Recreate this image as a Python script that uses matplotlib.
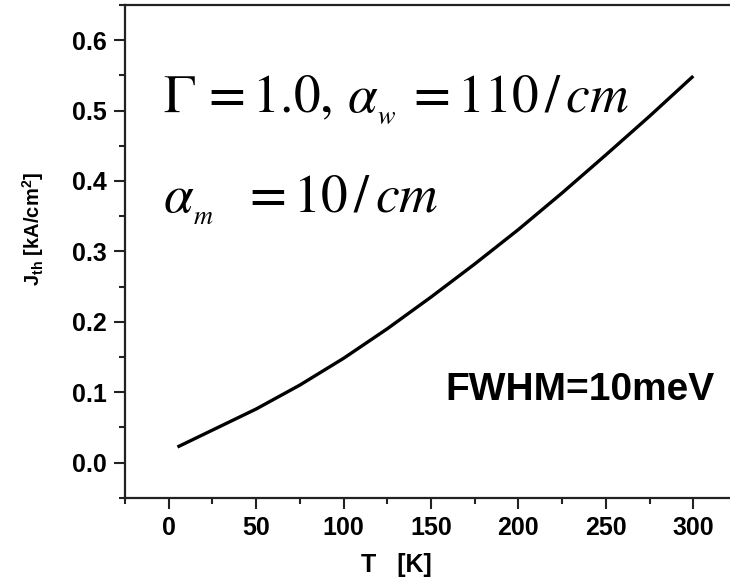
import matplotlib
matplotlib.use("Agg")
import matplotlib.pyplot as plt
from matplotlib.ticker import MultipleLocator

# Data
T = [5, 25, 50, 75, 100, 125, 150, 175, 200, 225, 250, 275, 300]
J = [0.022, 0.046, 0.076, 0.110, 0.148, 0.190, 0.235, 0.282, 0.331, 0.383, 0.437, 0.492, 0.549]

xticks = [0, 50, 100, 150, 200, 250, 300]
yticks = [0.0, 0.1, 0.2, 0.3, 0.4, 0.5, 0.6]

plt.rcParams['font.family'] = ['Liberation Sans', 'DejaVu Sans']
plt.rcParams['mathtext.fontset'] = 'custom'
plt.rcParams['mathtext.rm'] = 'Liberation Sans:bold'
plt.rcParams['mathtext.bf'] = 'Liberation Sans:bold'
plt.rcParams['mathtext.it'] = 'Liberation Sans:bold'

fig = plt.figure(figsize=(7.3, 5.8), dpi=100)
ax = fig.add_axes([0.1712, 0.1419, 1 - 0.1712, 0.9914 - 0.1419])

ax.plot(T, J, color='black', lw=2.4, solid_capstyle='butt')

ax.set_xlim(-25, 321)
ax.set_ylim(-0.05, 0.65)
ax.set_xticks(xticks)
ax.set_yticks(yticks)
ax.set_xticklabels([str(v) for v in xticks])
ax.set_yticklabels([f"{v:.1f}" for v in yticks])
ax.xaxis.set_minor_locator(MultipleLocator(25))
ax.yaxis.set_minor_locator(MultipleLocator(0.05))

for s in ['left', 'bottom', 'top']:
    ax.spines[s].set_linewidth(1.6)
    ax.spines[s].set_color('#222222')
ax.spines['right'].set_visible(False)

ax.tick_params(which='major', direction='out', length=8, width=1.5, colors='#222222',
               labelsize=18, pad=5)
ax.tick_params(which='minor', direction='out', length=4.5, width=1.5, colors='#222222')
ax.tick_params(top=False, right=False)
for lab in ax.get_xticklabels() + ax.get_yticklabels():
    lab.set_fontweight('bold')
    lab.set_color('black')

ax.set_xlabel('T   [K]', fontsize=18, fontweight='bold')
ax.xaxis.set_label_coords((396 - 125) / (730 - 125), -(572 - 497.7) / (497.7 - 5))
ax.xaxis.label.set_va('baseline')
ax.set_ylabel(r'J$_{\mathrm{th}}$ [kA/cm$^{\mathrm{2}}$]', fontsize=14.5, fontweight='bold')
ax.yaxis.set_label_coords(-(125 - 46) / (730 - 125), (497.7 - 229) / (497.7 - 5))

ax.text(163 / 730, 1 - 112 / 580, r'$\Gamma\, = 1.0,\,\alpha_{_{w}}\, = 110\,/\,cm$',
        transform=fig.transFigure, fontsize=38.5, ha='left', va='baseline',
        math_fontfamily='stix')
ax.text(163 / 730, 1 - 212 / 580, r'$\alpha_{_{m}}\ \ = 10\,/\,cm$',
        transform=fig.transFigure, fontsize=38.5, ha='left', va='baseline',
        math_fontfamily='stix')

ax.text(715 / 730, 1 - 400 / 580, 'FWHM=10meV', transform=fig.transFigure,
        fontsize=28, fontweight='bold', ha='right', va='baseline')

fig.savefig('out.png', dpi=100)
